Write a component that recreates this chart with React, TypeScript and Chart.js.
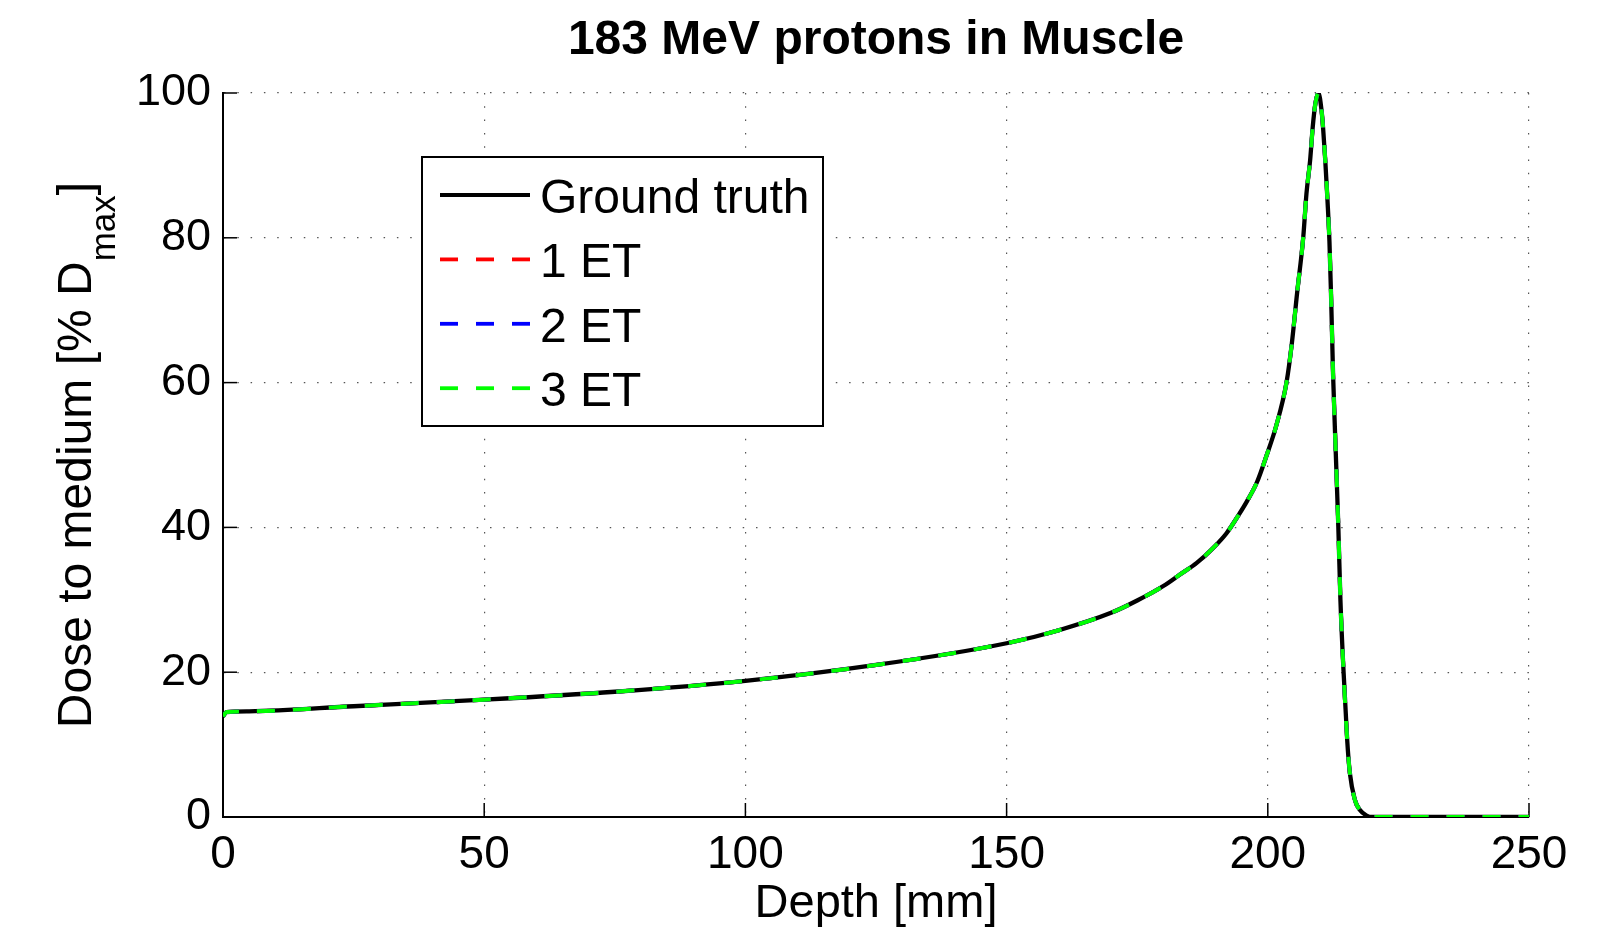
import React, { useEffect, useRef } from 'react';
import { Chart, registerables } from 'chart.js';

Chart.register(...registerables);

// ---- Data ----
const depthMm = [
  0, 0.7, 5, 25, 50, 75, 100, 125, 150, 160, 170, 175, 180, 183.2, 186.4, 189.6,
  192.1, 194.4, 196, 197.9, 199.8, 201.6, 203.6, 204.6, 205.6, 206.8, 207.4, 208.1,
  208.6, 209.1, 209.7, 210.3, 210.6, 211.0, 211.4, 211.8, 212.1, 212.5, 213.0, 213.5,
  213.9, 214.5, 215.2, 215.7, 216.7, 217.6, 218.9, 220, 250,
];
const groundTruth = [
  13.9, 14.5, 14.6, 15.3, 16.2, 17.3, 18.8, 21.0, 24.0, 25.8, 28.2, 29.9, 31.9, 33.5, 35.1, 37.2,
  39.2, 41.7, 43.6, 46.2, 50.0, 54.0, 60.1, 65.4, 72.3, 80.2, 86.1, 90.7,
  95.3, 98.5, 100, 97.5, 95.0, 90.7, 85.5, 79.5, 72.3, 61.0, 50.5, 40.1,
  30.0, 20.1, 10.6, 6.1, 2.3, 1.0, 0.2, 0, 0,
];
const oneET = [
  13.9, 14.5, 14.6, 15.3, 16.2, 17.3, 18.8, 21.0, 24.0, 25.8, 28.2, 29.9, 31.9, 33.5, 35.1, 37.2,
  39.2, 41.7, 43.6, 46.2, 50.0, 54.0, 60.1, 65.4, 72.3, 80.2, 86.1, 90.7,
  95.3, 98.5, 100, 97.5, 95.0, 90.7, 85.5, 79.5, 72.3, 61.0, 50.5, 40.1,
  30.0, 20.1, 10.6, 6.1, 2.3, 1.0, 0.2, 0, 0,
];
const twoET = [
  13.9, 14.5, 14.6, 15.3, 16.2, 17.3, 18.8, 21.0, 24.0, 25.8, 28.2, 29.9, 31.9, 33.5, 35.1, 37.2,
  39.2, 41.7, 43.6, 46.2, 50.0, 54.0, 60.1, 65.4, 72.3, 80.2, 86.1, 90.7,
  95.3, 98.5, 100, 97.5, 95.0, 90.7, 85.5, 79.5, 72.3, 61.0, 50.5, 40.1,
  30.0, 20.1, 10.6, 6.1, 2.3, 1.0, 0.2, 0, 0,
];
const threeET = [
  13.9, 14.5, 14.6, 15.3, 16.2, 17.3, 18.8, 21.0, 24.0, 25.8, 28.2, 29.9, 31.9, 33.5, 35.1, 37.2,
  39.2, 41.7, 43.6, 46.2, 50.0, 54.0, 60.1, 65.4, 72.3, 80.2, 86.1, 90.7,
  95.3, 98.5, 100, 97.5, 95.0, 90.7, 85.5, 79.5, 72.3, 61.0, 50.5, 40.1,
  30.0, 20.1, 10.6, 6.1, 2.3, 1.0, 0.2, 0, 0,
];
const xTicks = [0, 50, 100, 150, 200, 250];
const yTicks = [0, 20, 40, 60, 80, 100];
const seriesLabels = ['Ground truth', '1 ET', '2 ET', '3 ET'];
const seriesColors = ['#000000', '#ff0000', '#0000ff', '#00ff00'];
const titleText = '183 MeV protons in Muscle';
const xTitle = 'Depth [mm]';
const yTitleMain = 'Dose to medium [% D';
const yTitleSub = 'max';
const yTitleEnd = ']';

const FONT = "'Liberation Sans', Arial, Helvetica, sans-serif";
const DASH = [18, 18];
const LINE_W = 4.3;

const toPoints = (ys: number[]) => depthMm.map((x, i) => ({ x, y: ys[i] }));

const inwardTicks = {
  id: 'inwardTicks',
  beforeDatasetsDraw(chart: any) {
    const { ctx, chartArea, scales } = chart;
    const x = scales.x;
    const y = scales.y;
    ctx.save();
    ctx.strokeStyle = '#000';
    ctx.lineWidth = 1.5;
    x.ticks.forEach((t: any) => {
      const px = x.getPixelForValue(t.value);
      ctx.beginPath();
      ctx.moveTo(px, chartArea.bottom);
      ctx.lineTo(px, chartArea.bottom - 14);
      ctx.stroke();
    });
    y.ticks.forEach((t: any) => {
      const py = y.getPixelForValue(t.value);
      ctx.beginPath();
      ctx.moveTo(chartArea.left, py);
      ctx.lineTo(chartArea.left + 14, py);
      ctx.stroke();
    });
    ctx.restore();
  },
};

const boxLegend = {
  id: 'boxLegend',
  afterDraw(chart: any) {
    const { ctx, chartArea } = chart;
    const left = chartArea.left + 199;
    const top = chartArea.top + 64;
    const w = 401;
    const h = 269;
    ctx.save();
    ctx.fillStyle = '#fff';
    ctx.fillRect(left, top, w, h);
    ctx.strokeStyle = '#000';
    ctx.lineWidth = 2;
    ctx.strokeRect(left, top, w, h);
    ctx.font = `48px ${FONT}`;
    ctx.textAlign = 'left';
    ctx.textBaseline = 'alphabetic';
    chart.data.datasets.forEach((ds: any, i: number) => {
      const rowY = top + 38 + i * 64.4;
      ctx.beginPath();
      ctx.strokeStyle = ds.borderColor;
      ctx.lineWidth = 3.8;
      ctx.setLineDash(ds.borderDash || []);
      ctx.moveTo(left + 18, rowY);
      ctx.lineTo(left + 108, rowY);
      ctx.stroke();
      ctx.setLineDash([]);
      ctx.fillStyle = '#000';
      ctx.fillText(ds.label, left + 118, rowY + 18);
    });
    ctx.restore();
  },
};

const yAxisLabel = {
  id: 'yAxisLabel',
  afterDraw(chart: any) {
    const { ctx, chartArea } = chart;
    ctx.save();
    ctx.fillStyle = '#000';
    ctx.textAlign = 'left';
    ctx.textBaseline = 'alphabetic';
    const mainFont = `48px ${FONT}`;
    const subFont = `35px ${FONT}`;
    ctx.font = mainFont;
    const wMain = ctx.measureText(yTitleMain).width;
    const wEnd = ctx.measureText(yTitleEnd).width;
    ctx.font = subFont;
    const wSub = ctx.measureText(yTitleSub).width;
    const total = wMain + wSub + wEnd;
    const cy = (chartArea.top + chartArea.bottom) / 2;
    ctx.translate(91, cy + total / 2);
    ctx.rotate(-Math.PI / 2);
    ctx.font = mainFont;
    ctx.fillText(yTitleMain, 0, 0);
    ctx.font = subFont;
    ctx.fillText(yTitleSub, wMain, 24);
    ctx.font = mainFont;
    ctx.fillText(yTitleEnd, wMain + wSub, 0);
    ctx.restore();
  },
};

export default function App() {
  const canvasRef = useRef<HTMLCanvasElement | null>(null);

  useEffect(() => {
    document.body.style.margin = '0';
    const canvas = canvasRef.current;
    if (!canvas) return;
    const seriesData = [groundTruth, oneET, twoET, threeET];
    const chart = new Chart(canvas, {
      type: 'line',
      data: {
        datasets: seriesData.map((ys, i) => ({
          label: seriesLabels[i],
          data: toPoints(ys),
          borderColor: seriesColors[i],
          backgroundColor: seriesColors[i],
          borderWidth: i === 0 ? LINE_W : LINE_W - 0.3,
          borderDash: i === 0 ? [] : DASH,
          pointRadius: 0,
          fill: false,
          cubicInterpolationMode: 'monotone',
          order: 4 - i,
        })),
      },
      options: {
        responsive: false,
        animation: false,
        devicePixelRatio: 1,
        layout: { padding: { left: 0, top: 0, right: 90, bottom: 0 } },
        font: { family: FONT },
        plugins: {
          legend: { display: false },
          tooltip: { enabled: false },
          title: {
            display: true,
            text: titleText,
            fullSize: false,
            color: '#000',
            font: { family: FONT, size: 48, weight: 'bold' },
            padding: { top: 12, bottom: 23.4 },
          },
        },
        scales: {
          x: {
            type: 'linear',
            min: 0,
            max: 250,
            afterBuildTicks: (scale: any) => {
              scale.ticks = xTicks.map((v) => ({ value: v }));
            },
            afterFit: (scale: any) => {
              scale.height = 112;
            },
            ticks: {
              color: '#000',
              padding: 11,
              maxRotation: 0,
              font: { family: FONT, size: 46 },
            },
            grid: { color: '#555', lineWidth: 1.2, drawTicks: false },
            border: { color: '#000', width: 2, dash: [1.5, 11.8] },
            title: {
              display: true,
              text: xTitle,
              color: '#000',
              font: { family: FONT, size: 47, lineHeight: 1.0 },
              padding: { top: 0, bottom: 1 },
            },
          },
          y: {
            type: 'linear',
            min: 0,
            max: 100,
            afterBuildTicks: (scale: any) => {
              scale.ticks = yTicks.map((v) => ({ value: v }));
            },
            afterFit: (scale: any) => {
              scale.width = 223;
            },
            ticks: {
              color: '#000',
              padding: 12,
              font: { family: FONT, size: 45 },
            },
            grid: { color: '#555', lineWidth: 1.2, drawTicks: false },
            border: { color: '#000', width: 2, dash: [1.5, 11.8] },
          },
        },
      },
      plugins: [inwardTicks, boxLegend, yAxisLabel],
    } as any);
    return () => chart.destroy();
  }, []);

  return (
    <div style={{ width: 1619, height: 929, background: '#fff' }}>
      <canvas ref={canvasRef} width={1619} height={929} style={{ display: 'block' }} />
    </div>
  );
}
